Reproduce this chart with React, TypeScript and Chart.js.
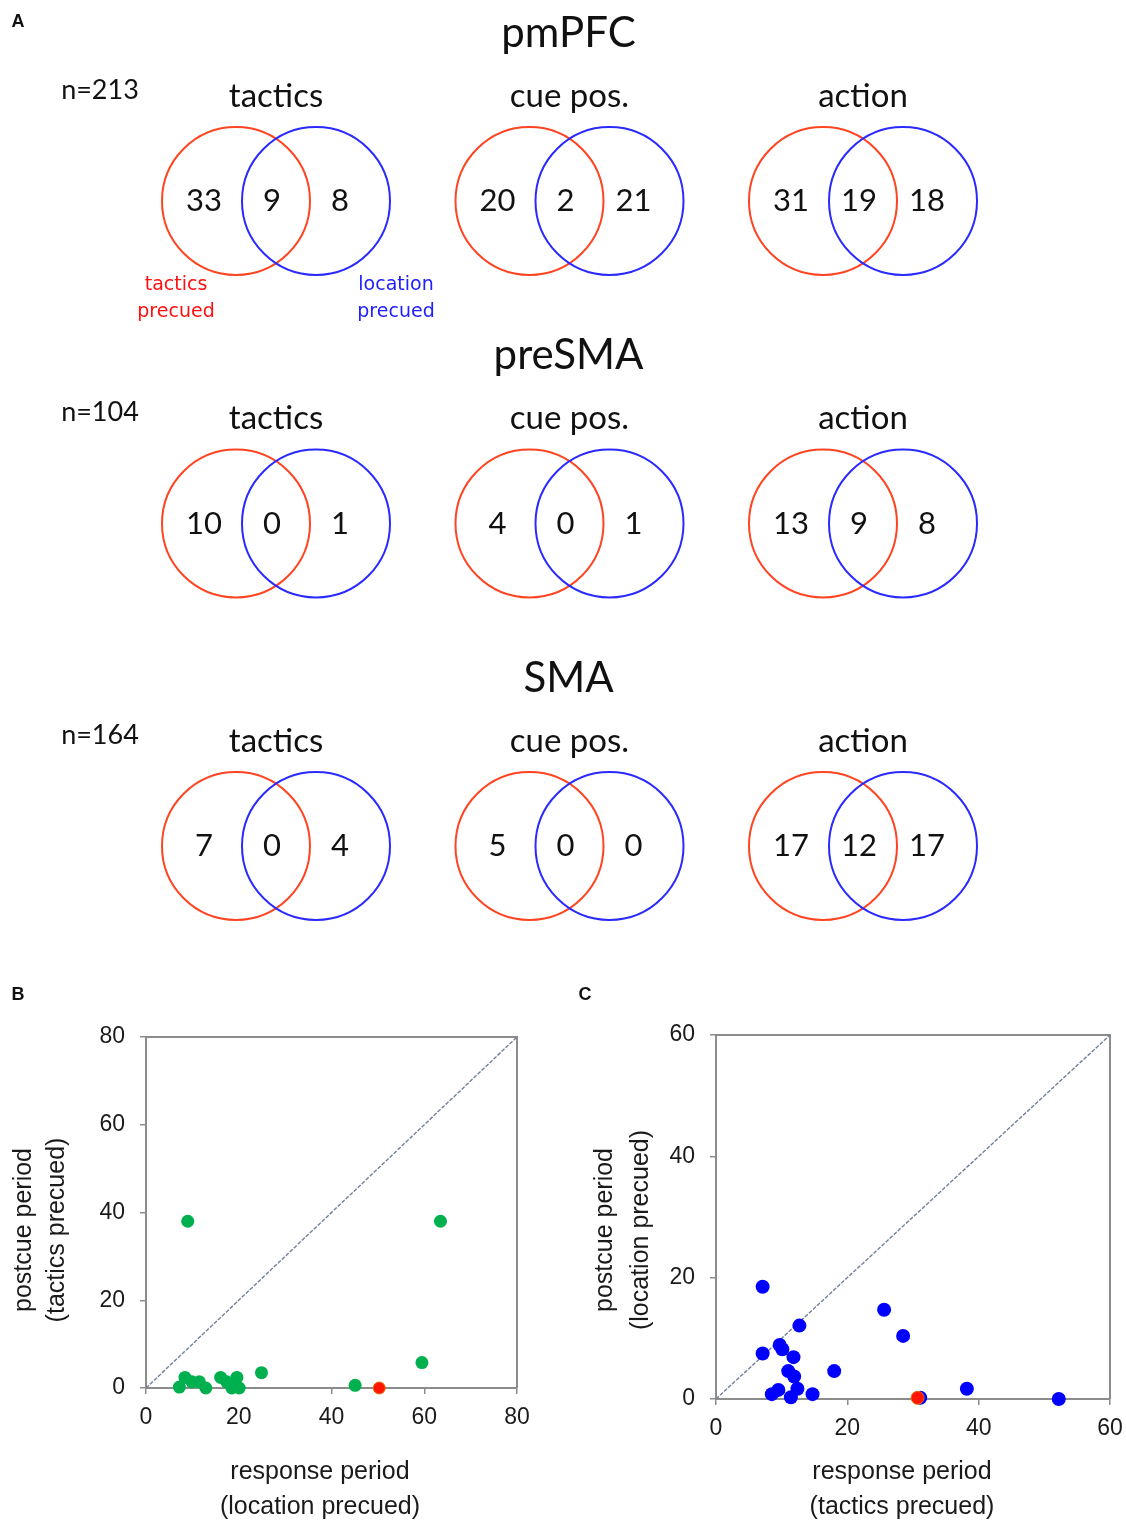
import React, { useEffect, useRef } from "react";
import { Chart, registerables } from "chart.js";

Chart.register(...registerables);

// ---- Panel A: neuron counts per area and variable ----
const regions = ["pmPFC", "preSMA", "SMA"];
const regionTotals = [213, 104, 164];
const variables = ["tactics", "cue pos.", "action"];
// per area, per variable: selective only when tactics precued / both / only when location precued
const tacticsOnly = [
  [33, 20, 31],
  [10, 4, 13],
  [7, 5, 17],
];
const overlap = [
  [9, 2, 19],
  [0, 0, 9],
  [0, 0, 12],
];
const locationOnly = [
  [8, 21, 18],
  [1, 1, 8],
  [4, 0, 17],
];

// ---- Panel B: tactics-precued postcue vs location-precued response ----
const bResponse = [9.0, 63.5, 59.5, 24.9, 45.1, 7.2, 8.4, 9.9, 11.5, 12.9, 16.1, 17.4, 18.5, 19.6, 20.1];
const bPostcue = [38.0, 38.0, 5.8, 3.5, 0.6, 0.2, 2.4, 1.4, 1.4, 0.0, 2.4, 1.4, 0.0, 2.4, 0.0];
const bSharedResponse = [50.3];
const bSharedPostcue = [0.0];
const bTicks = [0, 20, 40, 60, 80];

// ---- Panel C: location-precued postcue vs tactics-precued response ----
const cResponse = [7.1, 25.6, 28.5, 12.7, 9.7, 10.1, 7.1, 11.8, 11.0, 11.9, 18.0, 12.4, 9.5, 8.5, 11.4, 14.7, 38.2, 52.2, 31.1];
const cPostcue = [18.5, 14.7, 10.4, 12.1, 8.9, 8.2, 7.5, 6.9, 4.6, 3.7, 4.6, 1.7, 1.5, 0.8, 0.3, 0.8, 1.7, 0.0, 0.2];
const cSharedResponse = [30.7];
const cSharedPostcue = [0.2];
const cTicks = [0, 20, 40, 60];

const VENN_FONT = "Lato, 'Open Sans', sans-serif";
const KEY_FONT = "'DejaVu Sans', Verdana, sans-serif";
const PLOT_FONT = "'Liberation Sans', Arial, sans-serif";
const INK = "#111111";

function VennPanel() {
  const ref = useRef<HTMLCanvasElement>(null);
  useEffect(() => {
    if (!ref.current) return;
    const sep = 0.1363;
    const redSets: { x: number; y: number }[] = [];
    const blueSets: { x: number; y: number }[] = [];
    regions.forEach((_, r) =>
      variables.forEach((_, c) => {
        redSets.push({ x: c - sep, y: r });
        blueSets.push({ x: c + sep, y: r });
      })
    );

    const labels = {
      id: "vennLabels",
      afterDatasetsDraw(chart: any) {
        const { ctx } = chart;
        const xs = chart.scales.x;
        const ys = chart.scales.y;
        ctx.save();
        ctx.textAlign = "center";
        ctx.textBaseline = "middle";
        ctx.fillStyle = INK;
        ctx.font = `bold 18px ${PLOT_FONT}`;
        ctx.fillText("A", 18, 22);

        regions.forEach((name, r) => {
          const rowY = ys.getPixelForValue(r);
          ctx.fillStyle = INK;
          ctx.font = `42px ${VENN_FONT}`;
          ctx.fillText(name, xs.getPixelForValue(1) - 1, rowY - 168);
          ctx.font = `27px ${VENN_FONT}`;
          ctx.fillText(`n=${regionTotals[r]}`, 100, rowY - 111);
          variables.forEach((v, c) => {
            const colX = xs.getPixelForValue(c);
            ctx.font = `33px ${VENN_FONT}`;
            ctx.fillText(v, colX, rowY - 105);
            ctx.font = `31px ${VENN_FONT}`;
            ctx.fillText(String(tacticsOnly[r][c]), colX - 72, rowY);
            ctx.fillText(String(overlap[r][c]), colX - 4, rowY);
            ctx.fillText(String(locationOnly[r][c]), colX + 64, rowY);
          });
        });

        // set key under the first diagram
        const x0 = xs.getPixelForValue(0);
        const y0 = ys.getPixelForValue(0);
        ctx.font = `19px ${KEY_FONT}`;
        ctx.fillStyle = "#ff1010";
        ctx.fillText("tactics", x0 - 100, y0 + 84);
        ctx.fillText("precued", x0 - 100, y0 + 111);
        ctx.fillStyle = "#2020ff";
        ctx.fillText("location", x0 + 120, y0 + 84);
        ctx.fillText("precued", x0 + 120, y0 + 111);
        ctx.restore();
      },
    };

    const circle = (color: string, data: any[], order: number) => ({
      data,
      order,
      clip: false,
      pointRadius: 74,
      pointHoverRadius: 74,
      pointBorderWidth: 2,
      pointHoverBorderWidth: 2,
      pointBorderColor: color,
      pointBackgroundColor: "rgba(0,0,0,0)",
      borderColor: color,
      backgroundColor: "rgba(0,0,0,0)",
      showLine: false,
    });

    // the plot area is inset by the circle radius (plus border) on every side,
    // so the ranges below place column i at 276 + 293.5·i and row j at 201 + 322.5·j
    const chart = new Chart(ref.current, {
      type: "scatter",
      data: {
        datasets: [circle("#ff4422", redSets, 2), circle("#2a2aff", blueSets, 1)],
      },
      options: {
        animation: false,
        responsive: false,
        events: [],
        layout: { padding: 0 },
        plugins: { legend: { display: false }, tooltip: { enabled: false } },
        scales: {
          x: { type: "linear", display: false, min: -0.68143, max: 2.63714 },
          y: { type: "linear", display: false, reverse: true, min: -0.387597, max: 2.133333 },
        },
      } as any,
      plugins: [labels],
    });
    return () => chart.destroy();
  }, []);
  return <canvas ref={ref} width={1126} height={965} style={{ position: "absolute", left: 0, top: 0 }} />;
}

type ScatterProps = {
  letter: string;
  letterX: number;
  left: number;
  top: number;
  width: number;
  height: number;
  padTop: number;
  padRight: number;
  xAxisHeight: number;
  ticks: number[];
  xs: number[];
  ys: number[];
  sharedX: number[];
  sharedY: number[];
  color: string;
  radius: number;
  xTitle: string[];
  yTitle: string[];
  xTitleX: number;
  xTitleY: number[];
  yTitleX: number[];
  yTitleY: number;
};

function ScatterPanel(p: ScatterProps) {
  const ref = useRef<HTMLCanvasElement>(null);
  useEffect(() => {
    if (!ref.current) return;
    const axisMax = p.ticks[p.ticks.length - 1];
    const axisGrey = "#8c8c8c";

    const frame = {
      id: "frame",
      beforeDatasetsDraw(chart: any) {
        const { ctx } = chart;
        const { left, right, top, bottom } = chart.chartArea;
        ctx.save();
        ctx.strokeStyle = axisGrey;
        ctx.lineWidth = 2;
        ctx.beginPath();
        ctx.moveTo(left, top);
        ctx.lineTo(right, top);
        ctx.lineTo(right, bottom);
        ctx.stroke();
        ctx.restore();
      },
      afterDraw(chart: any) {
        const { ctx } = chart;
        ctx.save();
        ctx.fillStyle = INK;
        ctx.textAlign = "center";
        ctx.textBaseline = "middle";
        ctx.font = `bold 18px ${PLOT_FONT}`;
        ctx.fillText(p.letter, p.letterX, 15);
        ctx.font = `25px ${PLOT_FONT}`;
        ctx.fillStyle = "#1a1a1a";
        p.xTitle.forEach((t, i) => ctx.fillText(t, p.xTitleX, p.xTitleY[i]));
        p.yTitle.forEach((t, i) => {
          ctx.save();
          ctx.translate(p.yTitleX[i], p.yTitleY);
          ctx.rotate(-Math.PI / 2);
          ctx.fillText(t, 0, 0);
          ctx.restore();
        });
        ctx.restore();
      },
    };

    const axis = (isX: boolean) => ({
      type: "linear",
      min: 0,
      max: axisMax,
      afterBuildTicks: (scale: any) => {
        scale.ticks = p.ticks.map((v) => ({ value: v }));
      },
      afterFit: (scale: any) => {
        if (isX) {
          scale.height = p.xAxisHeight;
          scale.paddingLeft = 0;
          scale.paddingRight = 0;
        } else {
          scale.width = 146;
          scale.paddingTop = 0;
          scale.paddingBottom = 0;
        }
      },
      ticks: {
        color: "#1a1a1a",
        font: { family: PLOT_FONT, size: 23 },
        padding: isX ? 10 : 15,
        maxRotation: 0,
      },
      grid: {
        drawOnChartArea: false,
        drawTicks: true,
        tickLength: 6,
        color: axisGrey,
        lineWidth: 1.5,
      },
      border: { display: true, color: axisGrey, width: 2 },
    });

    const chart = new Chart(ref.current, {
      type: "scatter",
      data: {
        datasets: [
          {
            type: "line",
            data: [
              { x: 0, y: 0 },
              { x: axisMax, y: axisMax },
            ],
            borderColor: "#72809c",
            borderWidth: 1.4,
            borderDash: [4, 1.5],
            pointRadius: 0,
            fill: false,
            order: 3,
          },
          {
            data: p.xs.map((x, i) => ({ x, y: p.ys[i] })),
            pointRadius: p.radius,
            pointBackgroundColor: p.color,
            pointBorderColor: p.color,
            pointBorderWidth: 0,
            clip: false,
            order: 2,
          },
          {
            data: p.sharedX.map((x, i) => ({ x, y: p.sharedY[i] })),
            pointRadius: p.radius - 0.5,
            pointBackgroundColor: "#ff1500",
            pointBorderColor: "#e86a00",
            pointBorderWidth: 1,
            clip: false,
            order: 1,
          },
        ],
      },
      options: {
        animation: false,
        responsive: false,
        events: [],
        layout: { padding: { top: p.padTop, right: p.padRight, left: 0, bottom: 0 } },
        plugins: { legend: { display: false }, tooltip: { enabled: false } },
        scales: { x: axis(true), y: axis(false) },
      } as any,
      plugins: [frame],
    });
    return () => chart.destroy();
  }, []);
  return (
    <canvas
      ref={ref}
      width={p.width}
      height={p.height}
      style={{ position: "absolute", left: p.left, top: p.top }}
    />
  );
}

export default function App() {
  return (
    <div style={{ position: "absolute", left: 0, top: 0, width: 1126, height: 1522, background: "#ffffff" }}>
      <VennPanel />
      <ScatterPanel
        letter="B"
        letterX={18}
        left={0}
        top={980}
        width={560}
        height={542}
        padTop={57}
        padRight={43}
        xAxisHeight={134}
        ticks={bTicks}
        xs={bResponse}
        ys={bPostcue}
        sharedX={bSharedResponse}
        sharedY={bSharedPostcue}
        color="#00b04f"
        radius={6.5}
        xTitle={["response period", "(location precued)"]}
        yTitle={["postcue period", "(tactics precued)"]}
        xTitleX={320}
        xTitleY={[492, 527]}
        yTitleX={[24, 57]}
        yTitleY={250}
      />
      <ScatterPanel
        letter="C"
        letterX={15}
        left={570}
        top={980}
        width={556}
        height={542}
        padTop={55}
        padRight={16}
        xAxisHeight={123}
        ticks={cTicks}
        xs={cResponse}
        ys={cPostcue}
        sharedX={cSharedResponse}
        sharedY={cSharedPostcue}
        color="#0000ff"
        radius={7}
        xTitle={["response period", "(tactics precued)"]}
        yTitle={["postcue period", "(location precued)"]}
        xTitleX={332}
        xTitleY={[492, 527]}
        yTitleX={[35, 71]}
        yTitleY={250}
      />
    </div>
  );
}
